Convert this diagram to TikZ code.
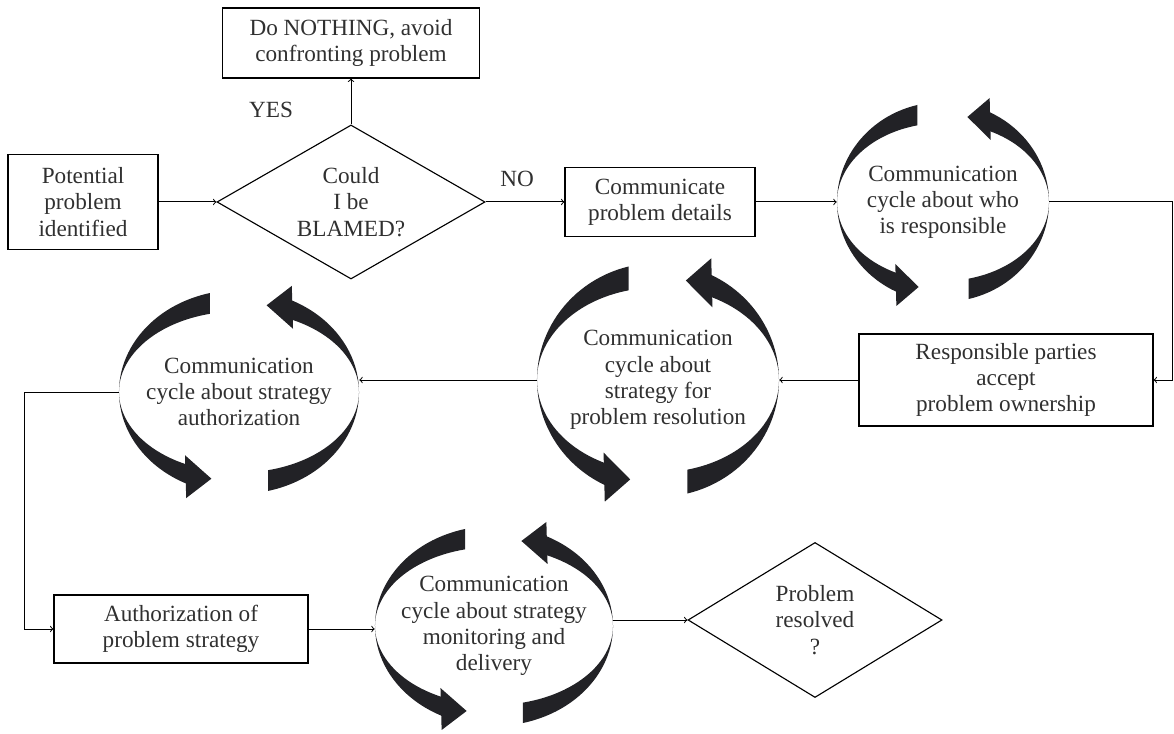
\documentclass[tikz,border=0pt]{standalone}
\usepackage{fontspec}
\setmainfont{Liberation Serif}
\usepackage{tikz}
\usetikzlibrary{shapes.geometric, arrows}
\usetikzlibrary{positioning}
\definecolor{cycdark}{HTML}{222226}
\definecolor{txtgray}{HTML}{303030}
\tikzset{font={\fontsize{16.5}{18.6}\selectfont}}
\tikzset{
	box/.style={rectangle, draw, line width=0.8pt, align=center, inner sep=2pt, text=txtgray},
	decision/.style={diamond, draw, line width=0.8pt, align=center, inner sep=0pt, aspect=1.7, text=txtgray},
	cyc/.style 2 args={rectangle, align=center, inner sep=0pt, minimum width=#1, minimum height=#2, text=txtgray},
	conn/.style={line width=0.7pt},
	cycarrows/.pic={
		% left arc, head pointing down
		\fill[cycdark] (104:1) arc[start angle=104, end angle=244, radius=1]
			-- (244:1 and 0.79) arc[start angle=244, end angle=104, x radius=1, y radius=0.79] -- cycle;
		\fill[cycdark] (-0.45,-0.62) -- (-0.44,-1.04) -- (-0.23,-0.85) -- cycle;
		% right arc, head pointing up
		\fill[cycdark] (284:1) arc[start angle=284, end angle=424, radius=1]
			-- (424:1 and 0.79) arc[start angle=424, end angle=284, x radius=1, y radius=0.79] -- cycle;
		\fill[cycdark] (0.45,0.62) -- (0.44,1.04) -- (0.23,0.85) -- cycle;
	}
}

\begin{document}
\begin{tikzpicture}[x=0.025cm, y=0.025cm]

	\useasboundingbox (0,0) rectangle (1174,734);

	% top row
	\node (pot_prob) [box, minimum width=3.75cm, minimum height=2.375cm] at (83,532) {Potential\\problem\\identified};

	\node (blame_dec) [decision, minimum width=6.7cm, minimum height=3.85cm] at (351,532) {Could\\I be\\BLAMED?};

	\node (do_nothing) [box, minimum width=6.425cm, minimum height=1.75cm] at (351,691) {Do NOTHING, avoid\\confronting problem};

	\node (comm_det) [box, minimum width=4.75cm, minimum height=1.725cm] at (660,532) {Communicate\\problem details};

	\node (cyc_resp) [cyc={5.3cm}{5cm}] at (943,532) {Communication\\cycle about who\\is responsible};
	\pic[xscale=106, yscale=100] at (cyc_resp.center) {cycarrows};

	% middle row
	\node (resp_acc) [box, minimum width=7.35cm, minimum height=2.3cm] at (1006,354) {Responsible parties\\accept\\problem ownership};

	\node (cyc_strat) [cyc={6.05cm}{5.85cm}] at (658,354) {Communication\\cycle about\\strategy for\\problem resolution};
	\pic[xscale=121, yscale=117] at (cyc_strat.center) {cycarrows};

	\node (cyc_auth) [cyc={6cm}{5.1cm}] at (239,342) {Communication\\cycle about strategy\\authorization};
	\pic[xscale=120, yscale=102] at (cyc_auth.center) {cycarrows};

	% bottom row
	\node (auth_strat) [box, minimum width=6.35cm, minimum height=1.7cm] at (181,105) {Authorization of\\problem strategy};

	\node (cyc_mon) [cyc={5.95cm}{5cm}] at (494,108) {Communication\\cycle about strategy\\monitoring and\\delivery};
	\pic[xscale=119, yscale=100] at (cyc_mon.center) {cycarrows};

	\node (prob_res) [decision, minimum width=6.35cm, minimum height=3.875cm] at (815,114) {Problem\\resolved\\?};

	% connectors
	\draw[conn, ->] (pot_prob.east) -- (blame_dec.west);

	\draw[conn, ->] (blame_dec.north) -- (do_nothing.south);

	\node (yes_lbl) [text=txtgray] at (271,624) {YES};

	\draw[conn, ->] (blame_dec.east) -- node (no_lbl) [above=7pt, pos=0.4, text=txtgray] {NO} (comm_det.west);

	\draw[conn, ->] (comm_det.east) -- (cyc_resp.west);

	\draw[conn, ->] (cyc_resp.east)
	-- ++(123,0) coordinate (right_top)
	|- (resp_acc.east);

	\draw[conn, ->] (resp_acc.west) -- (cyc_strat.east);

	\draw[conn, ->] (cyc_strat.west) -- (cyc_strat.west -| cyc_auth.east);

	\draw[conn, ->] (cyc_auth.west)
	-- ++(-94,0) coordinate (auth_corner)
	|- (auth_strat.west);

	\draw[conn, ->] (auth_strat.east) -- (auth_strat.east -| cyc_mon.west);

	\draw[conn, ->] (prob_res.west -| cyc_mon.east) -- (prob_res.west);

\end{tikzpicture}
\end{document}
